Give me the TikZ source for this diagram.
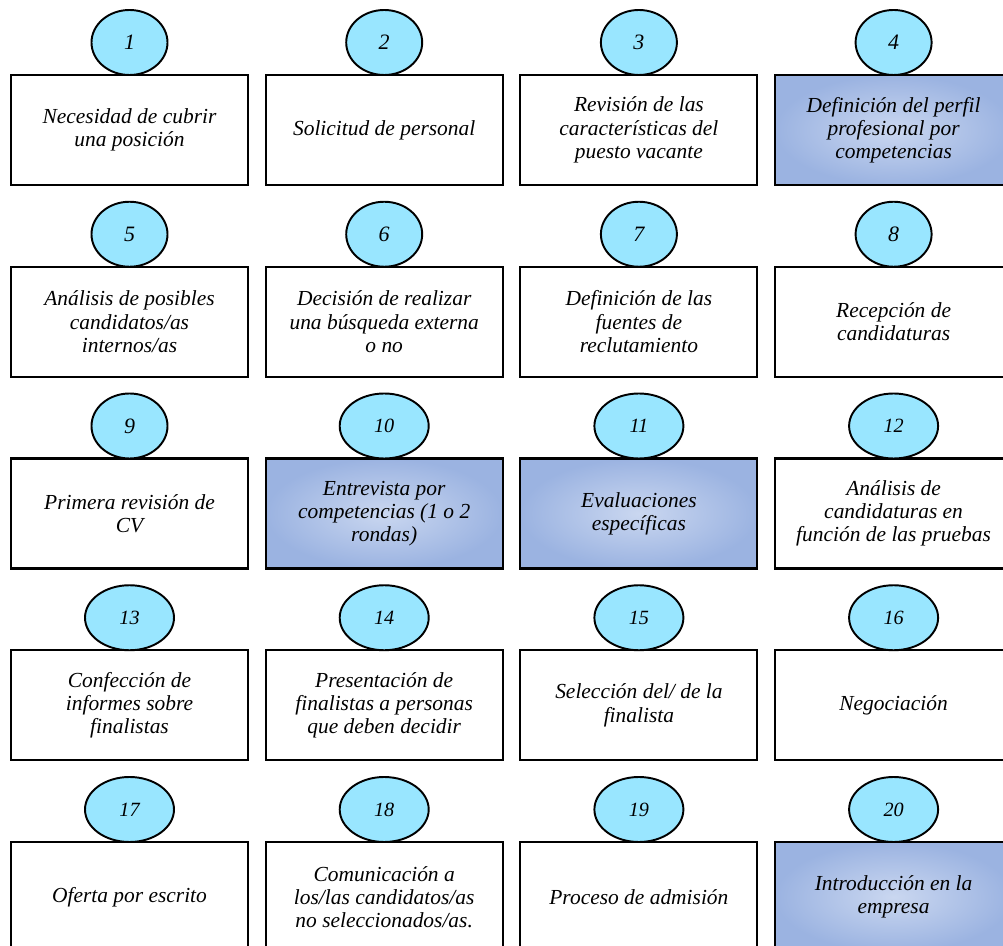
\documentclass[tikz,border=0pt]{standalone}
\usepackage{fontspec}
\setmainfont{Liberation Serif}
\usepackage[HTML]{xcolor}
\usetikzlibrary{positioning, shapes.geometric}

\definecolor{ovalfill}{HTML}{99E6FF}
\definecolor{shadeout}{HTML}{9BB3E1}
\definecolor{shadein}{HTML}{CAD7F0}

\tikzset{
  stepbox/.style={draw, line width=1.2pt, fill=white, minimum width=4.74cm,
    minimum height=2.2cm, inner sep=0pt, outer sep=0pt, align=center,
    font=\fontsize{12.2}{13.2}\selectfont\itshape},
  keybox/.style={stepbox, inner color=shadein, outer color=shadeout},
  numoval/.style={ellipse, draw, line width=1.1pt, fill=ovalfill,
    minimum width=1.52cm, minimum height=1.3cm, inner sep=0pt, outer sep=0pt,
    font=\fontsize{12.5}{14}\selectfont\itshape},
  wideoval/.style={numoval, minimum width=1.78cm,
    font=\fontsize{11.5}{13}\selectfont\itshape}
}

\begin{document}
\begin{tikzpicture}
\useasboundingbox (0,0) rectangle (20.06,-18.92);
% row 1
\node[stepbox] (b1) at (2.59,-2.6) {Necesidad de cubrir\\una posición};
\node[stepbox] (b2) at (7.684,-2.6) {Solicitud de personal};
\node[stepbox] (b3) at (12.778,-2.6) {Revisión de las\\características del\\puesto vacante};
\node[keybox] (b4) at (17.872,-2.6) {Definición del perfil\\profesional por\\competencias};
% row 2
\node[stepbox] (b5) at (2.59,-6.435) {Análisis de posibles\\candidatos/as\\internos/as};
\node[stepbox] (b6) at (7.684,-6.435) {Decisión de realizar\\una búsqueda externa\\o no};
\node[stepbox] (b7) at (12.778,-6.435) {Definición de las\\fuentes de\\reclutamiento};
\node[stepbox] (b8) at (17.872,-6.435) {Recepción de\\candidaturas};
% row 3
\node[stepbox] (b9) at (2.59,-10.27) {Primera revisión de\\CV};
\node[keybox] (b10) at (7.684,-10.27) {Entrevista por\\competencias (1 o 2\\rondas)};
\node[keybox] (b11) at (12.778,-10.27) {Evaluaciones\\específicas};
\node[stepbox] (b12) at (17.872,-10.27) {Análisis de\\candidaturas en\\función de las pruebas};
% row 4
\node[stepbox] (b13) at (2.59,-14.105) {Confección de\\informes sobre\\finalistas};
\node[stepbox] (b14) at (7.684,-14.105) {Presentación de\\finalistas a personas\\que deben decidir};
\node[stepbox] (b15) at (12.778,-14.105) {Selección del/ de la\\finalista};
\node[stepbox] (b16) at (17.872,-14.105) {Negociación};
% row 5
\node[stepbox] (b17) at (2.59,-17.94) {Oferta por escrito};
\node[stepbox] (b18) at (7.684,-17.94) {Comunicación a\\los/las candidatos/as\\no seleccionados/as.};
\node[stepbox] (b19) at (12.778,-17.94) {Proceso de admisión};
\node[keybox] (b20) at (17.872,-17.94) {Introducción en la\\empresa};
% numbered ovals on top of each box
\foreach \i in {1,...,9}
  \node[numoval, above=0pt of b\i] (n\i) {\i};
\foreach \i in {10,...,20}
  \node[wideoval, above=0pt of b\i] (n\i) {\i};
\end{tikzpicture}
\end{document}
